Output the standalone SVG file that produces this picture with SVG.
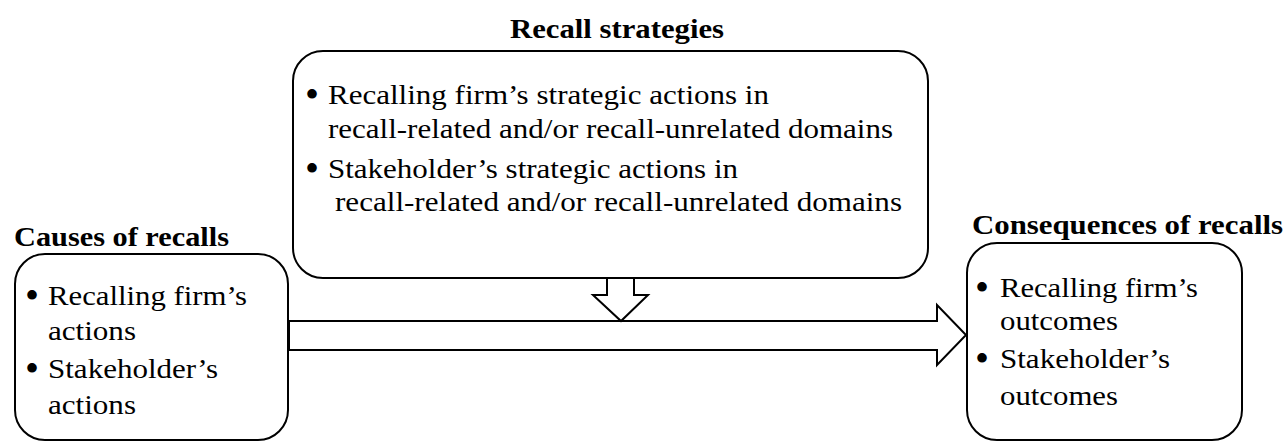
<svg xmlns="http://www.w3.org/2000/svg" width="1285" height="442" viewBox="0 0 1285 442">
<style>
.b{text-anchor:middle;font-size:40px}
.h{font-weight:bold}
.box{fill:#fff;stroke:#000;stroke-width:2}
.arr{fill:#fff;stroke:#000;stroke-width:2;stroke-linejoin:miter}
</style>
<rect width="1285" height="442" fill="#fff"/>
<g id="connectors">
<polygon class="arr" points="289,321 937,321 937,305 966,335 937,365 937,350 289,350"/>
<polygon class="arr" points="607,278 634,278 634,295 648,295 621,321 593,295 607,295"/>
</g>
<g font-family="Liberation Serif, DejaVu Serif, serif" font-size="28" fill="#000">
<g id="strategies">
<text class="h" x="510" y="38" textLength="214" lengthAdjust="spacingAndGlyphs">Recall strategies</text>
<rect class="box" x="293" y="51" width="635" height="227" rx="30" ry="30"/>
<text class="b" x="312" y="108">•</text>
<text x="328" y="104" textLength="441" lengthAdjust="spacingAndGlyphs">Recalling firm’s strategic actions in</text>
<text x="328" y="138" textLength="565" lengthAdjust="spacingAndGlyphs">recall-related and/or recall-unrelated domains</text>
<text class="b" x="312" y="182">•</text>
<text x="328" y="178" textLength="410" lengthAdjust="spacingAndGlyphs">Stakeholder’s strategic actions in</text>
<text x="335" y="211" textLength="567" lengthAdjust="spacingAndGlyphs">recall-related and/or recall-unrelated domains</text>
</g>
<g id="causes">
<text class="h" x="14" y="246" textLength="215" lengthAdjust="spacingAndGlyphs">Causes of recalls</text>
<rect class="box" x="15" y="254" width="273" height="186" rx="30" ry="30"/>
<text class="b" x="32" y="309">•</text>
<text x="48" y="305" textLength="199" lengthAdjust="spacingAndGlyphs">Recalling firm’s</text>
<text x="48" y="340" textLength="88" lengthAdjust="spacingAndGlyphs">actions</text>
<text class="b" x="32" y="382">•</text>
<text x="48" y="378" textLength="170" lengthAdjust="spacingAndGlyphs">Stakeholder’s</text>
<text x="48" y="414" textLength="88" lengthAdjust="spacingAndGlyphs">actions</text>
</g>
<g id="consequences">
<text class="h" x="972" y="234" textLength="311" lengthAdjust="spacingAndGlyphs">Consequences of recalls</text>
<rect class="box" x="967" y="243" width="275" height="197" rx="30" ry="30"/>
<text class="b" x="982" y="301">•</text>
<text x="1000" y="297" textLength="198" lengthAdjust="spacingAndGlyphs">Recalling firm’s</text>
<text x="1000" y="330" textLength="118" lengthAdjust="spacingAndGlyphs">outcomes</text>
<text class="b" x="982" y="372">•</text>
<text x="1000" y="368" textLength="170" lengthAdjust="spacingAndGlyphs">Stakeholder’s</text>
<text x="1000" y="405" textLength="118" lengthAdjust="spacingAndGlyphs">outcomes</text>
</g>
</g>
</svg>
